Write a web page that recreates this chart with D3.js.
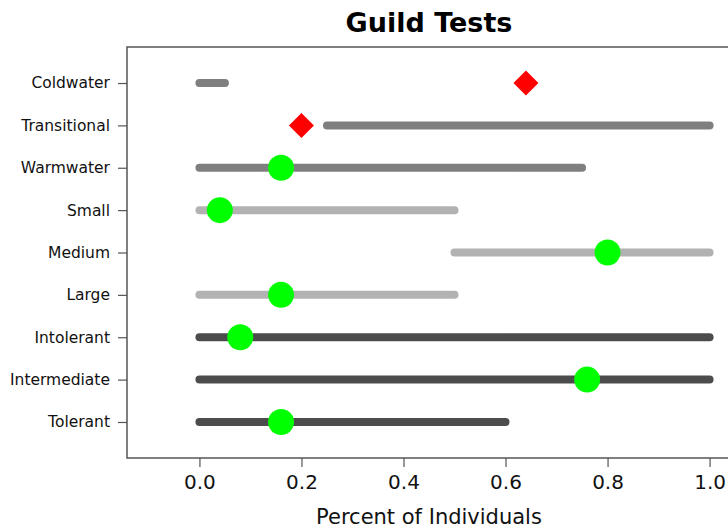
<!DOCTYPE html>
<html>
<head>
<meta charset="utf-8">
<script src="https://cdn.jsdelivr.net/npm/d3@7"></script>
<style>
  body { margin: 0; background: #fff; }
  svg { display: block; font-family: "DejaVu Sans", sans-serif; }
</style>
</head>
<body>
<div id="chart"></div>
<script>
// guild rows, top to bottom
const guilds = ['Coldwater', 'Transitional', 'Warmwater', 'Small', 'Medium', 'Large', 'Intolerant', 'Intermediate', 'Tolerant'];
const rangeLow = [0, 0.25, 0, 0, 0.5, 0, 0, 0, 0];
const rangeHigh = [0.05, 1.0, 0.75, 0.5, 1.0, 0.5, 1.0, 1.0, 0.6];
const barGroup = ['temp', 'temp', 'temp', 'size', 'size', 'size', 'tol', 'tol', 'tol'];
const observed = [0.64, 0.2, 0.16, 0.04, 0.8, 0.16, 0.08, 0.76, 0.16];
const passed = [false, false, true, true, true, true, true, true, true];
const xTicks = [0.0, 0.2, 0.4, 0.6, 0.8, 1.0];

const width = 728, height = 529;
const margin = {top: 47, right: -3, bottom: 71, left: 127};
const fontFam = '"DejaVu Sans", sans-serif';

const svg = d3.select('#chart').append('svg')
    .attr('width', width)
    .attr('height', height);

const x = d3.scaleLinear()
    .domain([-0.142, 1.042])
    .range([margin.left, width - margin.right]);

const y = d3.scalePoint()
    .domain(guilds)
    .range([margin.top, height - margin.bottom])
    .padding(0.85);

const groupColor = {temp: '#7f7f7f', size: '#b2b2b2', tol: '#4c4c4c'};

// frame
svg.append('rect')
    .attr('x', margin.left)
    .attr('y', margin.top)
    .attr('width', x.range()[1] - margin.left)
    .attr('height', height - margin.bottom - margin.top)
    .attr('fill', 'none')
    .attr('stroke', '#555')
    .attr('stroke-width', 1.5);

const rows = guilds.map((g, i) => ({
    guild: g, lo: rangeLow[i], hi: rangeHigh[i], group: barGroup[i],
    obs: observed[i], ok: passed[i]
}));

svg.selectAll('.bar')
    .data(rows)
    .enter().append('line')
    .attr('class', 'bar')
    .attr('x1', d => x(d.lo))
    .attr('x2', d => x(d.hi))
    .attr('y1', d => y(d.guild))
    .attr('y2', d => y(d.guild))
    .attr('stroke', d => groupColor[d.group])
    .attr('stroke-width', 8)
    .attr('stroke-linecap', 'round');

svg.selectAll('.pass')
    .data(rows.filter(d => d.ok))
    .enter().append('circle')
    .attr('class', 'pass')
    .attr('cx', d => x(d.obs))
    .attr('cy', d => y(d.guild))
    .attr('r', 13)
    .attr('fill', '#00ff00');

svg.selectAll('.fail')
    .data(rows.filter(d => !d.ok))
    .enter().append('path')
    .attr('class', 'fail')
    .attr('d', 'M0,-12.5L12.5,0L0,12.5L-12.5,0Z')
    .attr('transform', d => `translate(${x(d.obs)},${y(d.guild)})`)
    .attr('fill', '#ff0000');

// axes
const xAxis = svg.append('g')
    .attr('transform', `translate(0,${height - margin.bottom})`)
    .call(d3.axisBottom(x).tickValues(xTicks).tickFormat(d3.format('.1f'))
        .tickSize(9).tickSizeOuter(0).tickPadding(8));
xAxis.attr('font-family', fontFam);
xAxis.select('.domain').remove();
xAxis.selectAll('line').attr('stroke', '#555').attr('stroke-width', 1.2);
xAxis.selectAll('text').attr('font-size', 20).attr('fill', '#111');

const yAxis = svg.append('g')
    .attr('transform', `translate(${margin.left},0)`)
    .call(d3.axisLeft(y).tickSize(9).tickSizeOuter(0).tickPadding(8));
yAxis.attr('font-family', fontFam);
yAxis.select('.domain').remove();
yAxis.selectAll('line').attr('stroke', '#555').attr('stroke-width', 1.2);
yAxis.selectAll('text').attr('font-size', 15.5).attr('fill', '#111');

svg.append('text')
    .attr('x', 429)
    .attr('y', 524)
    .attr('text-anchor', 'middle')
    .attr('font-size', 21)
    .attr('fill', '#111')
    .text('Percent of Individuals');

svg.append('text')
    .attr('x', 429)
    .attr('y', 32)
    .attr('text-anchor', 'middle')
    .attr('font-size', 27)
    .attr('font-weight', 'bold')
    .text('Guild Tests');
</script>
</body>
</html>
